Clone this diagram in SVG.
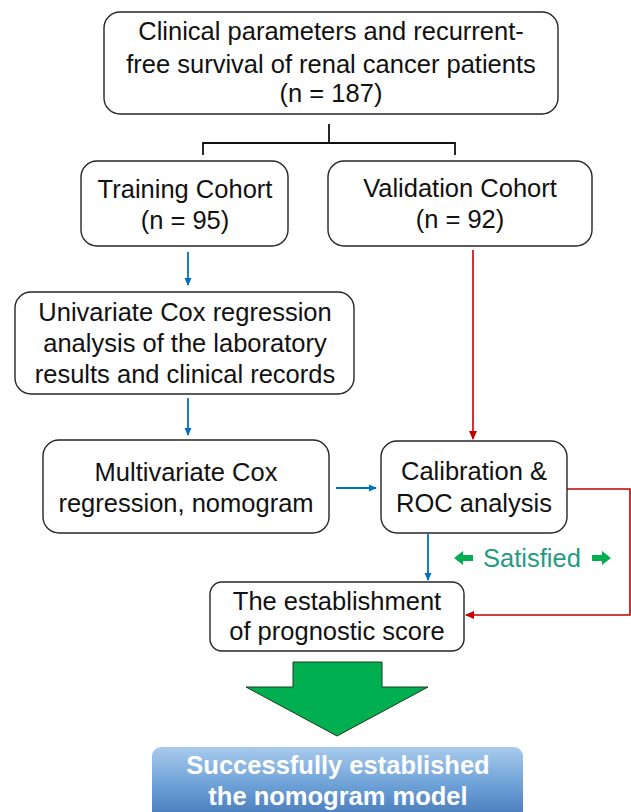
<svg xmlns="http://www.w3.org/2000/svg" width="631" height="812" viewBox="0 0 631 812">
<style>
.box{fill:#fff;stroke:#262626;stroke-width:1.4}
.t{font-family:"Liberation Sans",Arial,sans-serif;font-size:25.5px;fill:#111;text-anchor:middle}
.b{stroke:#0070c0;stroke-width:1.8;fill:none}
.r{stroke:#c00000;stroke-width:1.6;fill:none}
.k{stroke:#111;stroke-width:1.8;fill:none}
</style>
<defs>
<marker id="ab" markerWidth="8" markerHeight="8" refX="7" refY="4" orient="auto" markerUnits="userSpaceOnUse"><path d="M0,0.5 L8,4 L0,7.5 Z" fill="#0070c0"/></marker>
<marker id="ar" markerWidth="9" markerHeight="9" refX="8" refY="4.5" orient="auto" markerUnits="userSpaceOnUse"><path d="M0,0.5 L9,4.5 L0,8.5 Z" fill="#c00000"/></marker>
<linearGradient id="bg" x1="0" y1="0" x2="0" y2="1">
<stop offset="0" stop-color="#a8caec"/>
<stop offset="0.5" stop-color="#6a9fd6"/>
<stop offset="1" stop-color="#3a6fb0"/>
</linearGradient>
</defs>
<rect width="631" height="812" fill="#fff"/>
<g id="connectors">
<path class="k" d="M329,124 V143 M203,155 V143 H455 V155"/>
<path class="b" d="M188,252 V285" marker-end="url(#ab)"/>
<path class="b" d="M188,398 V435" marker-end="url(#ab)"/>
<path class="b" d="M336,488 H376" marker-end="url(#ab)"/>
<path class="b" d="M428,534 V580" marker-end="url(#ab)"/>
<path class="r" d="M473,250 V439" marker-end="url(#ar)"/>
<path class="r" d="M567,489 H630 V615 H466" marker-end="url(#ar)"/>
</g>
<g id="n_top"><rect class="box" x="104" y="12" width="454" height="102" rx="16"/>
<text class="t" x="331" y="40">Clinical parameters and recurrent-</text>
<text class="t" x="331" y="73">free survival of renal cancer patients</text>
<text class="t" x="331" y="102">(n = 187)</text></g>
<g id="n_training"><rect class="box" x="81" y="161" width="207" height="85" rx="16"/>
<text class="t" x="185" y="198">Training Cohort</text>
<text class="t" x="185" y="229">(n = 95)</text></g>
<g id="n_validation"><rect class="box" x="328" y="161" width="264" height="85" rx="16"/>
<text class="t" x="460" y="197">Validation Cohort</text>
<text class="t" x="460" y="228">(n = 92)</text></g>
<g id="n_univariate"><rect class="box" x="15" y="292" width="339" height="102" rx="16"/>
<text class="t" x="185" y="321">Univariate Cox regression</text>
<text class="t" x="185" y="352">analysis of the laboratory</text>
<text class="t" x="185" y="383">results and clinical records</text></g>
<g id="n_multivariate"><rect class="box" x="43" y="440" width="286" height="93" rx="16"/>
<text class="t" x="186" y="481">Multivariate Cox</text>
<text class="t" x="186" y="512">regression, nomogram</text></g>
<g id="n_calibration"><rect class="box" x="381" y="441" width="186" height="92" rx="16"/>
<text class="t" x="474" y="480">Calibration &amp;</text>
<text class="t" x="474" y="512">ROC analysis</text></g>
<g id="satisfied">
<path d="M454,558 L463,551 V555 H473 V561 H463 V565 Z" fill="#00b050"/>
<text class="t" x="532" y="567" style="fill:#1f9c82">Satisfied</text>
<path d="M611,558 L602,551 V555 H592 V561 H602 V565 Z" fill="#00b050"/>
</g>
<g id="n_establish"><rect class="box" x="210" y="582" width="254" height="69" rx="12"/>
<text class="t" x="337" y="610">The establishment</text>
<text class="t" x="337" y="640">of prognostic score</text></g>
<g id="big_arrow"><path d="M293,662 H382 V687 H428 L337,736 L246,687 H293 Z" fill="#00b050" stroke="#1a3a1a" stroke-width="1"/></g>
<g id="n_result"><rect x="152" y="747" width="371" height="80" rx="9" fill="url(#bg)"/>
<text class="t" x="338" y="774" style="fill:#fff;font-weight:bold">Successfully established</text>
<text class="t" x="338" y="805" style="fill:#fff;font-weight:bold">the nomogram model</text></g>
</svg>
